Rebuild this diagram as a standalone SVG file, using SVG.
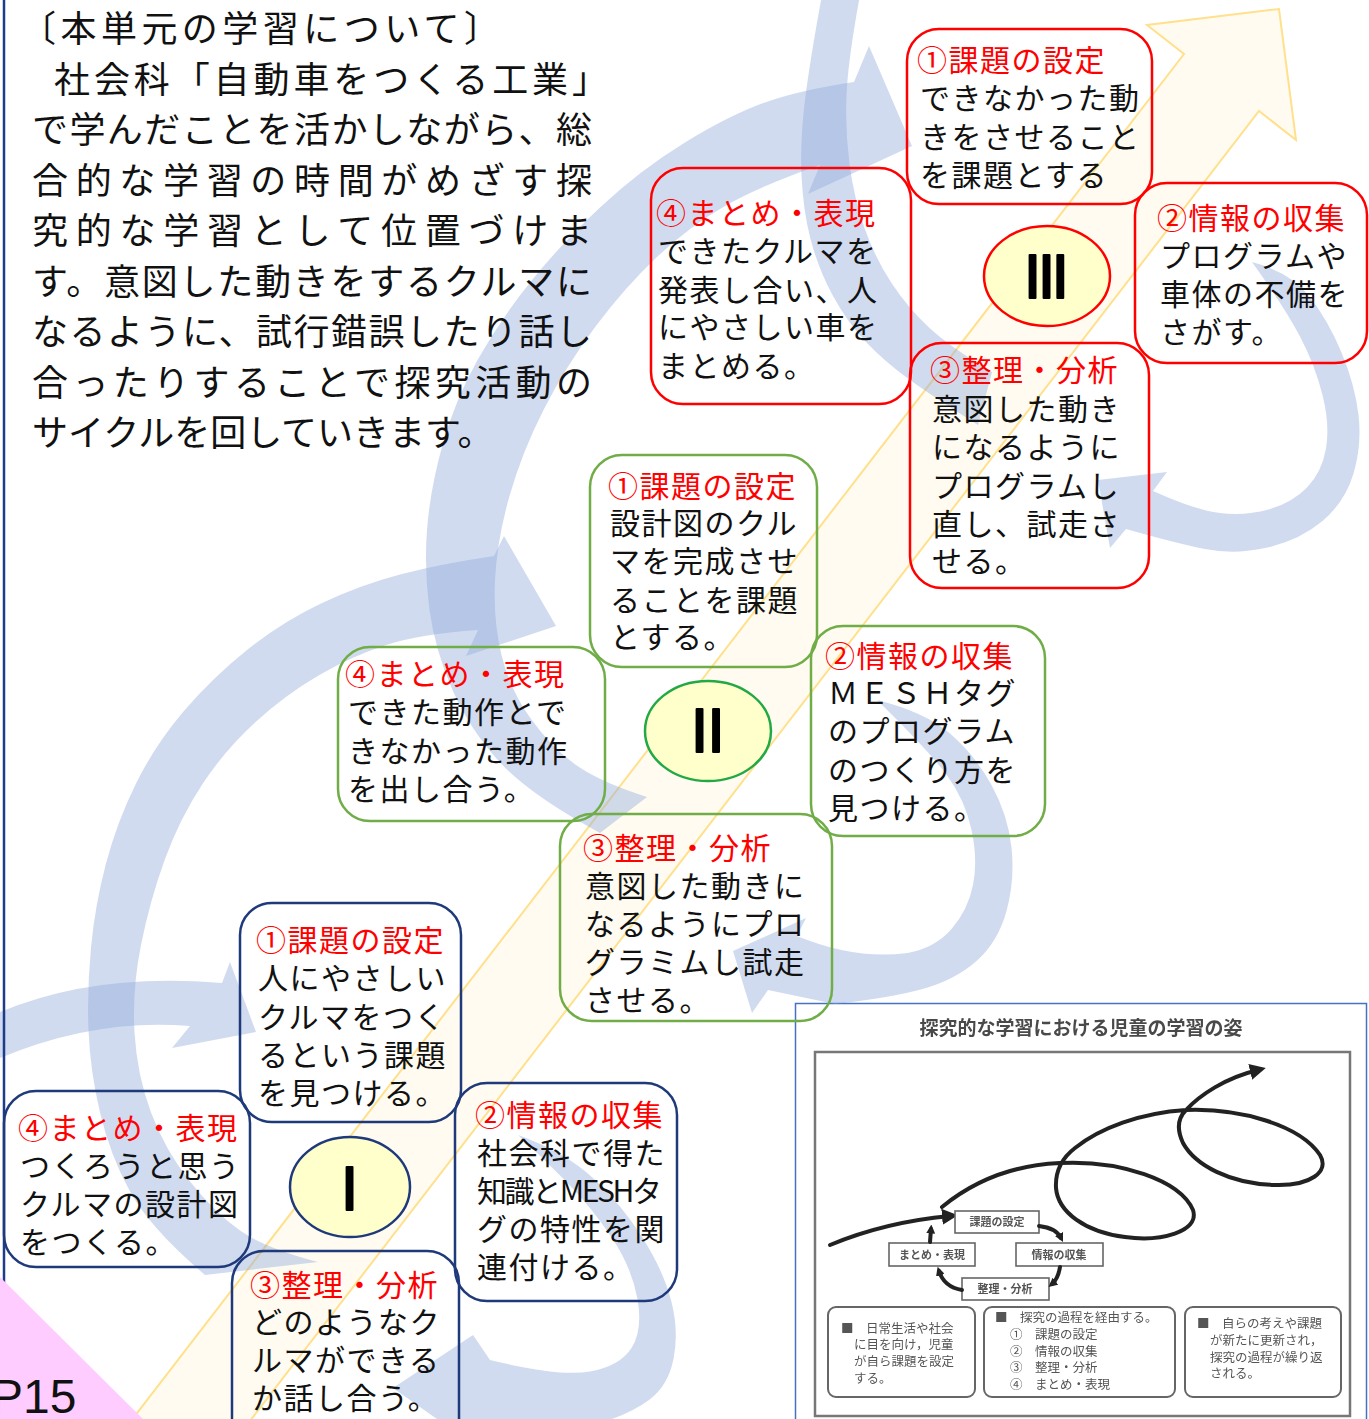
<svg xmlns="http://www.w3.org/2000/svg" width="1369" height="1419" viewBox="0 0 1369 1419">
<defs>
<style>
.jp{font-family:"Noto Sans CJK JP","Noto Sans CJK SC",sans-serif}
.para{font-size:36px;fill:#111}
.bt{font-size:30px;fill:#111;letter-spacing:1.5px}
.hd{fill:#ff0000}
.box{fill:none;stroke-width:2.5}
.nv{stroke:#1f3a7a}
.gr{stroke:#70ad47}
.rd{stroke:#ff0000}
.circ{fill:#ffffcc;stroke-width:2.5}
.num{font-family:"DejaVu Sans",sans-serif;font-size:58px;fill:#000;stroke:#000;stroke-width:2.2;stroke-linejoin:round}
.band{fill:#8faadc}
.bg{opacity:0.42}
.it{font-size:12.5px;fill:#555}
.ib{fill:#fff;stroke:#666;stroke-width:1.6}
.ibt{font-size:11px;fill:#555;font-weight:bold}
.ln{fill:none;stroke:#222;stroke-width:4;stroke-linecap:round}
</style>
<marker id="ah" viewBox="0 0 10 10" refX="5" refY="5" markerWidth="16" markerHeight="16" markerUnits="userSpaceOnUse" orient="auto"><path d="M0,0 L10,5 L0,10 z" fill="#222"/></marker>
<marker id="ahs" viewBox="0 0 10 10" refX="5" refY="5" markerWidth="9" markerHeight="9" markerUnits="userSpaceOnUse" orient="auto"><path d="M0,0 L10,5 L0,10 z" fill="#222"/></marker>
<filter id="soft" x="-5%" y="-5%" width="110%" height="110%"><feGaussianBlur stdDeviation="0.55"/></filter>
</defs>
<rect x="0" y="0" width="1369" height="1419" fill="#fff"/>

<g id="progress-arrow">
<path d="M124,1430 L1184,54 L1147,25 L1279,9 L1296,140 L1259,111 L243,1430 Z" fill="#fffbf0" stroke="#ffe08c" stroke-width="2"/>
</g>

<g id="inset">
<rect x="795.5" y="1003.5" width="571" height="420" fill="#fff" stroke="#4472c4" stroke-width="1.5"/>
<g filter="url(#soft)">
<text class="jp" x="1081" y="1035" text-anchor="middle" font-size="19" font-weight="bold" fill="#4a4a4a">探究的な学習における児童の学習の姿</text>
<rect x="815" y="1052" width="535" height="364" fill="none" stroke="#777" stroke-width="2.5"/>
<path class="ln" d="M830,1245 Q885,1222 950,1216" stroke-width="6.5" marker-end="url(#ah)"/>
<path class="ln" d="M942,1207 C975,1180 1015,1165 1060,1163 C1120,1160 1180,1180 1193,1210 C1200,1232 1160,1242 1125,1237 C1085,1232 1058,1212 1056,1188 C1055,1170 1062,1158 1075,1148 C1100,1128 1140,1113 1186,1110 C1240,1108 1300,1125 1320,1155 C1330,1172 1310,1186 1275,1185 C1230,1184 1195,1165 1183,1143 C1176,1128 1178,1118 1186,1110 C1200,1095 1225,1078 1258,1070" marker-end="url(#ah)"/>
<rect class="ib" x="955" y="1211" width="84" height="22"/>
<text class="jp ibt" x="997" y="1226" text-anchor="middle">課題の設定</text>
<rect class="ib" x="889" y="1243" width="86" height="23"/>
<text class="jp ibt" x="932" y="1259" text-anchor="middle">まとめ・表現</text>
<rect class="ib" x="1016" y="1243" width="87" height="23"/>
<text class="jp ibt" x="1059" y="1259" text-anchor="middle">情報の収集</text>
<rect class="ib" x="962" y="1278" width="87" height="22"/>
<text class="jp ibt" x="1005" y="1293" text-anchor="middle">整理・分析</text>
<path class="ln" d="M1039,1226 Q1056,1228 1061,1238" stroke-width="3" marker-end="url(#ahs)"/>
<path class="ln" d="M1060,1267 Q1058,1279 1052,1284" stroke-width="3" marker-end="url(#ahs)"/>
<path class="ln" d="M962,1290 Q944,1287 939,1271" stroke-width="3" marker-end="url(#ahs)"/>
<path class="ln" d="M930,1242 L931,1229" stroke-width="3" marker-end="url(#ahs)"/>
<rect x="828" y="1307" width="147" height="90" rx="8" fill="none" stroke="#666" stroke-width="2"/>
<rect x="984" y="1307" width="191" height="90" rx="8" fill="none" stroke="#666" stroke-width="2"/>
<rect x="1185" y="1307" width="156" height="90" rx="8" fill="none" stroke="#666" stroke-width="2"/>
<text class="jp it" x="841" y="1333">■　日常生活や社会</text>
<text class="jp it" x="854" y="1349">に目を向け，児童</text>
<text class="jp it" x="854" y="1366">が自ら課題を設定</text>
<text class="jp it" x="854" y="1383">する。</text>
<text class="jp it" x="995" y="1322">■　探究の過程を経由する。</text>
<text class="jp it" x="1010" y="1339">①　課題の設定</text>
<text class="jp it" x="1010" y="1356">②　情報の収集</text>
<text class="jp it" x="1010" y="1372">③　整理・分析</text>
<text class="jp it" x="1010" y="1389">④　まとめ・表現</text>
<text class="jp it" x="1197" y="1328">■　自らの考えや課題</text>
<text class="jp it" x="1210" y="1345">が新たに更新され，</text>
<text class="jp it" x="1210" y="1362">探究の過程が繰り返</text>
<text class="jp it" x="1210" y="1378">される。</text>
</g>
</g>

<g id="connectors">
<g class="bg"><path class="band" d="M0,1012 Q95,972 222,983 L230,962 L256,1032 L172,1048 L190,1026 Q95,1018 0,1058 Z"/></g>
<g class="bg"><path class="band" d="M518,1135 Q565,1152 593.5,1178.5 Q622,1205 643,1238.5 Q664,1272 671.5,1302 Q679,1332 673.5,1359 Q668,1386 649,1400 Q630,1414 600,1423 L570,1432 L478,1448 L393,1388 L473,1335 L490,1360 Q560,1377 590,1371.5 Q620,1366 631.5,1348 Q643,1330 637.5,1299 Q632,1268 612,1238 Q592,1208 568.5,1184 Q545,1160 518,1135 Z"/></g>
<g class="bg"><path class="band" d="M205,1275 Q150,1228 130,1191.5 Q110,1155 100,1112.5 Q90,1070 88.5,1030 Q87,990 91,947.5 Q95,905 106,863.5 Q117,822 136,783.5 Q155,745 183.5,711.5 Q212,678 247,650 Q282,622 321,603.5 Q360,585 400,574.5 Q440,564 494,556 L504,536 L556,626 L466,656 L478,630 Q420,634 386,645 Q352,656 318.5,675.5 Q285,695 255,722.5 Q225,750 202.5,784 Q180,818 165,859 Q150,900 141,945 Q132,990 134.5,1032.5 Q137,1075 151,1112.5 Q165,1150 190,1181.5 Q215,1213 240,1230.5 Q265,1248 318,1262 Z"/></g>
<g class="bg"><path class="band" d="M877,700 Q925,712 950,733.5 Q975,755 991.5,785 Q1008,815 1011.5,847.5 Q1015,880 1006.5,911 Q998,942 976.5,961 Q955,980 922.5,989 Q890,998 835,1004 L768,990 L752,1013 L733,951 L806,918 L797,936 Q855,960 907.5,953 Q935,948 951.5,929 Q968,910 973,885 Q978,860 971.5,830 Q965,800 947.5,776 Q930,752 877,700 Z"/></g>
<g class="bg"><path class="band" d="M600,833 Q530,795 500,762.5 Q470,730 452.5,690 Q435,650 429.5,610 Q424,570 427,530 Q430,490 442.5,445 Q455,400 477.5,360 Q500,320 530,282.5 Q560,245 600,207.5 Q640,170 685,142.5 Q730,115 765,102.5 Q800,90 854,82 L869,46 L912,146 L808,194 L820,165 Q760,186 725,206 Q690,226 657.5,256.5 Q625,287 595.5,326.5 Q566,366 544,409 Q522,452 509.5,496 Q497,540 495,580 Q493,620 501.5,655 Q510,690 531,719 Q552,748 576,765 Q600,782 647,797 Z"/></g>
<g class="bg"><path class="band" d="M1252,262 Q1290,272 1309,296 Q1328,320 1341.5,352.5 Q1355,385 1358.5,415 Q1362,445 1353.5,473.5 Q1345,502 1322.5,521 Q1300,540 1267.5,547.5 Q1235,555 1205,549 Q1175,543 1126,529 L1110,548 L1098,480 L1167,472 L1153,491 Q1195,510 1220,513 Q1245,516 1268.5,509.5 Q1292,503 1307,487.5 Q1322,472 1326,448.5 Q1330,425 1322.5,395 Q1315,365 1300,336.5 Q1285,308 1252,262 Z"/></g>
<g class="bg"><path class="band" d="M822,-5 Q810,60 805,100 Q800,140 801.5,175 Q803,210 810.5,239 Q818,268 832.5,295 Q847,322 866,342 Q885,362 910,380 Q935,398 978,425 L992,372 Q950,347 929,327.5 Q908,308 891.5,283 Q875,258 864.5,228 Q854,198 849.5,164 Q845,130 846.5,95 Q848,60 860,-5 Z"/></g>
</g>

<line x1="4" y1="0" x2="4" y2="1419" stroke="#1f3c88" stroke-width="2.5"/>

<g id="intro-text" class="jp para">
<text x="20" y="42" textLength="480" lengthAdjust="spacing">〔本単元の学習について〕</text>
<text x="54" y="92.5" textLength="554" lengthAdjust="spacing">社会科「自動車をつくる工業」</text>
<text x="32" y="143" textLength="560" lengthAdjust="spacing">で学んだことを活かしながら、総</text>
<text x="32" y="193.5" textLength="560" lengthAdjust="spacing">合的な学習の時間がめざす探</text>
<text x="32" y="244" textLength="560" lengthAdjust="spacing">究的な学習として位置づけま</text>
<text x="32" y="294.5" textLength="560" lengthAdjust="spacing">す。意図した動きをするクルマに</text>
<text x="32" y="345" textLength="560" lengthAdjust="spacing">なるように、試行錯誤したり話し</text>
<text x="32" y="395.5" textLength="560" lengthAdjust="spacing">合ったりすることで探究活動の</text>
<text x="32" y="446">サイクルを回していきます。</text>
</g>

<!-- Cycle III -->
<g id="c3-1" class="jp bt">
<rect class="box rd" x="907" y="29" width="245" height="175" rx="32"/>
<text class="hd" x="917" y="71">①課題の設定</text>
<text x="920" y="109">できなかった動</text>
<text x="920" y="148">きをさせること</text>
<text x="920" y="186">を課題とする</text>
</g>
<g id="c3-4" class="jp bt">
<rect class="box rd" x="651" y="168" width="260" height="236" rx="32"/>
<text class="hd" x="656" y="224">④まとめ・表現</text>
<text x="658" y="262">できたクルマを</text>
<text x="658" y="301">発表し合い、人</text>
<text x="658" y="338">にやさしい車を</text>
<text x="658" y="377">まとめる。</text>
</g>
<g id="c3-2" class="jp bt">
<rect class="box rd" x="1135" y="183" width="232" height="180" rx="32"/>
<text class="hd" x="1157" y="229">②情報の収集</text>
<text x="1160" y="267">プログラムや</text>
<text x="1160" y="305">車体の不備を</text>
<text x="1160" y="343">さがす。</text>
</g>
<g id="c3-3" class="jp bt">
<rect class="box rd" x="910" y="343" width="239" height="245" rx="32"/>
<text class="hd" x="930" y="381">③整理・分析</text>
<text x="932" y="420">意図した動き</text>
<text x="932" y="458">になるように</text>
<text x="932" y="497">プログラムし</text>
<text x="932" y="535">直し、試走さ</text>
<text x="932" y="572">せる。</text>
</g>
<g id="c3-center">
<ellipse class="circ rd" cx="1047" cy="276" rx="63" ry="50"/>
<text class="num" x="1024" y="298" letter-spacing="-3.2">III</text>
</g>

<!-- Cycle II -->
<g id="c2-1" class="jp bt">
<rect class="box gr" x="590" y="455" width="227" height="212" rx="32"/>
<text class="hd" x="608" y="497">①課題の設定</text>
<text x="610" y="534">設計図のクル</text>
<text x="610" y="572">マを完成させ</text>
<text x="610" y="611">ることを課題</text>
<text x="610" y="648">とする。</text>
</g>
<g id="c2-4" class="jp bt">
<rect class="box gr" x="338" y="647" width="267" height="174" rx="32"/>
<text class="hd" x="345" y="685">④まとめ・表現</text>
<text x="348" y="723">できた動作とで</text>
<text x="348" y="762">きなかった動作</text>
<text x="348" y="800">を出し合う。</text>
</g>
<g id="c2-2" class="jp bt">
<rect class="box gr" x="811" y="626" width="234" height="210" rx="32"/>
<text class="hd" x="825" y="667">②情報の収集</text>
<text x="828" y="704">ＭＥＳＨタグ</text>
<text x="828" y="742">のプログラム</text>
<text x="828" y="781">のつくり方を</text>
<text x="828" y="819">見つける。</text>
</g>
<g id="c2-3" class="jp bt">
<rect class="box gr" x="560" y="814" width="272" height="207" rx="32"/>
<text class="hd" x="583" y="859">③整理・分析</text>
<text x="585" y="897">意図した動きに</text>
<text x="585" y="935">なるようにプロ</text>
<text x="585" y="973">グラミムし試走</text>
<text x="585" y="1011">させる。</text>
</g>
<g id="c2-center">
<ellipse class="circ" stroke="#22a845" cx="708" cy="731" rx="63" ry="50"/>
<text class="num" x="691" y="752" letter-spacing="-0.5">II</text>
</g>

<!-- Cycle I -->
<g id="c1-1" class="jp bt">
<rect class="box nv" x="240" y="903" width="221" height="219" rx="32"/>
<text class="hd" x="256" y="951">①課題の設定</text>
<text x="258" y="989">人にやさしい</text>
<text x="258" y="1028">クルマをつく</text>
<text x="258" y="1066">るという課題</text>
<text x="258" y="1104">を見つける。</text>
</g>
<g id="c1-4" class="jp bt">
<rect class="box nv" x="4" y="1091" width="246" height="176" rx="32"/>
<text class="hd" x="18" y="1139">④まとめ・表現</text>
<text x="20" y="1177">つくろうと思う</text>
<text x="20" y="1215">クルマの設計図</text>
<text x="20" y="1253">をつくる。</text>
</g>
<g id="c1-2" class="jp bt">
<rect class="box nv" x="455" y="1083" width="222" height="218" rx="32"/>
<text class="hd" x="475" y="1126">②情報の収集</text>
<text x="477" y="1164">社会科で得た</text>
<text x="477" y="1202" textLength="185" lengthAdjust="spacing" style="letter-spacing:0">知識とMESHタ</text>
<text x="477" y="1240">グの特性を関</text>
<text x="477" y="1278">連付ける。</text>
</g>
<g id="c1-3" class="jp bt">
<rect class="box nv" x="232" y="1251" width="227" height="200" rx="32"/>
<text class="hd" x="250" y="1296">③整理・分析</text>
<text x="252" y="1333">どのようなク</text>
<text x="252" y="1371">ルマができる</text>
<text x="252" y="1409">か話し合う。</text>
</g>
<g id="c1-center">
<ellipse class="circ nv" cx="350" cy="1187" rx="60" ry="50"/>
<text class="num" x="341" y="1210">I</text>
</g>

<g id="page-tag">
<polygon points="0,1277 143,1419 0,1419" fill="#ffccff"/>
<text x="-9" y="1413" font-family="Liberation Sans, Arial, sans-serif" font-size="48" fill="#111">P15</text>
</g>
</svg>
